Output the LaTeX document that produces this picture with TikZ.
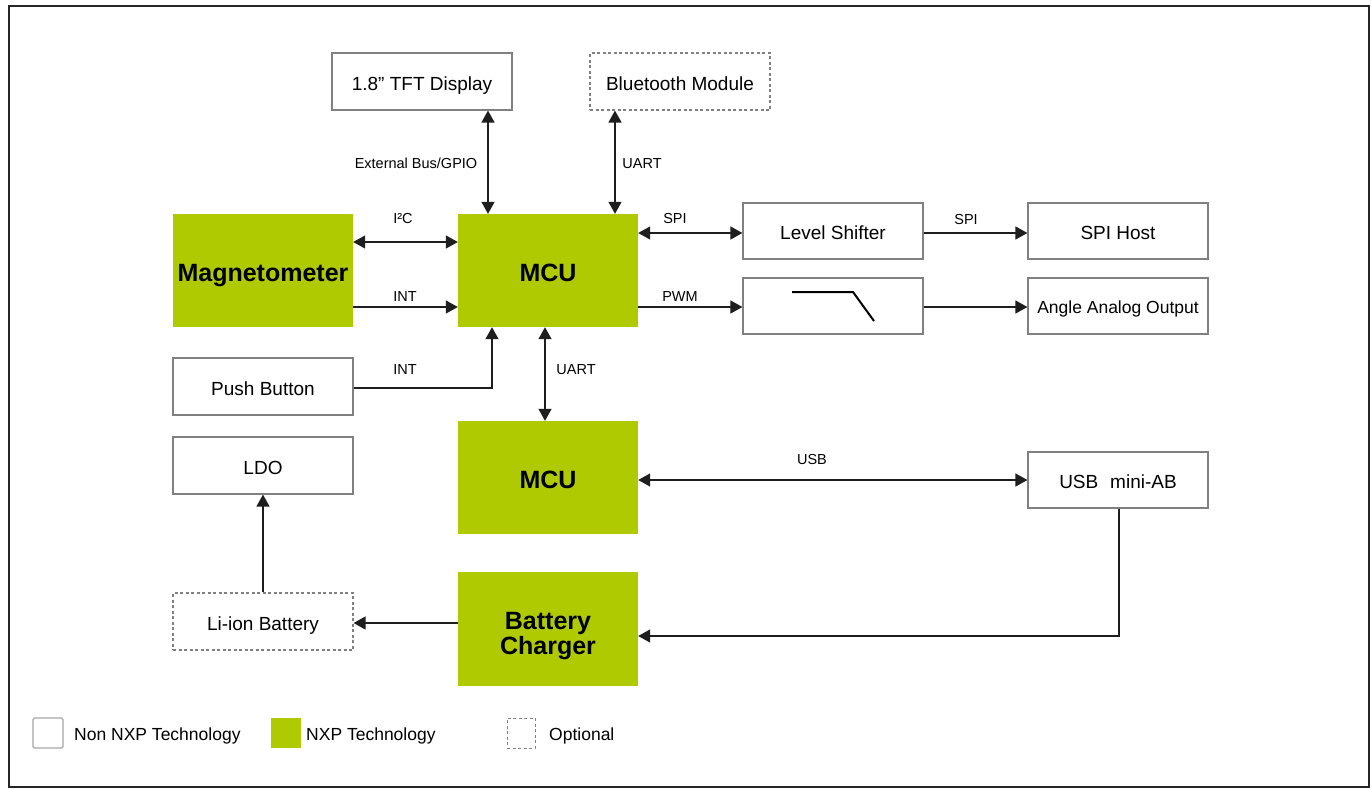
\documentclass[tikz,border=0pt]{standalone}
\usepackage{fontspec}
\setmainfont{Liberation Sans}
\usetikzlibrary{arrows.meta,calc}
\definecolor{nxpgreen}{RGB}{175,202,0}
\definecolor{boxgray}{RGB}{128,128,128}
\definecolor{linecol}{RGB}{30,30,30}
\tikzset{
  box/.style={draw=boxgray, line width=1.2pt, fill=white, minimum width=180pt, minimum height=57pt, inner sep=0pt, text height=17.1pt, text depth=0pt, font=\fontsize{19}{23}\selectfont},
  optbox/.style={box, dash pattern=on 3pt off 2.5pt},
  nxpbox/.style={fill=nxpgreen, draw=none, minimum width=180pt, minimum height=113pt, inner sep=0pt, text height=22.9pt, text depth=0pt, font=\fontsize{25}{26}\selectfont\bfseries},
  nxptext/.style={inner sep=0pt, align=center, font=\fontsize{25}{25}\selectfont\bfseries},
  conn/.style={draw=linecol, line width=1.3pt},
  tip/.tip={Triangle[length=12pt,width=13pt]},
  arr/.style={conn, -tip},
  biarr/.style={conn, tip-tip},
  lbl/.style={inner sep=0pt, font=\fontsize{14.5}{16}\selectfont},
  legtext/.style={inner sep=0pt, anchor=west, text height=14.5pt, text depth=0pt, font=\fontsize{17.5}{20}\selectfont},
}
\begin{document}
\begin{tikzpicture}[x=1pt,y=-1pt]
\useasboundingbox (0,0) rectangle (1372,788);
\fill[white] (0,0) rectangle (1372,788);
\draw[line width=2pt, black!85] (9,5.5) rectangle (1369,787);

% nodes
\node[box] (tft) at (422,81.5) {1.8” TFT Display};
\node[optbox] (bt) at (680,81.5) {Bluetooth Module};
\node[nxpbox] (mag) at (263,270.5) {Magnetometer};
\node[nxpbox] (mcu1) at (548,270.5) {MCU};
\node[box, minimum height=56pt] (ls) at (833,231) {Level Shifter};
\node[box, minimum height=56pt] (spi) at (1118,231) {SPI Host};
\node[box, minimum height=56pt] (flt) at (833,306) {};
\node[box, minimum height=56pt, text height=15.5pt, font=\fontsize{17.5}{20}\selectfont] (aao) at (1118,306) {Angle Analog Output};
\node[box] (pb) at (263,386.5) {Push Button};
\node[box] (ldo) at (263,465.5) {LDO};
\node[nxpbox] (mcu2) at (548,477.5) {MCU};
\node[box, minimum height=56pt] (usb) at (1118,480) {USB\hspace{0.35em} mini-AB};
\node[optbox] (li) at (263,621.5) {Li-ion Battery};
\node[nxpbox, minimum height=114pt] (chg) at (548,629) {};
\node[nxptext] (chgtext) at ([yshift=-7.5pt]chg.center) {Battery\\Charger};

% filter symbol
\draw[line width=2pt, black, line join=miter] (792,292) -- (853,292) -- (874,321);

% connectors
\draw[biarr] ([xshift=66pt]tft.south) -- ([xshift=66pt]tft.south |- mcu1.north);
\draw[biarr] ([xshift=-65pt]bt.south) -- ([xshift=-65pt]bt.south |- mcu1.north);
\draw[biarr] ([yshift=28.5pt]mag.east) -- ([yshift=28.5pt]mag.east -| mcu1.west);
\draw[arr] ([yshift=-36.5pt]mag.east) -- ([yshift=-36.5pt]mag.east -| mcu1.west);
\draw[biarr] ([yshift=-2pt]ls.west -| mcu1.east) -- ([yshift=-2pt]ls.west);
\draw[arr] ([yshift=-2pt]ls.east) -- ([yshift=-2pt]spi.west);
\draw[arr] ([yshift=-1pt]flt.west -| mcu1.east) -- ([yshift=-1pt]flt.west);
\draw[arr] ([yshift=-1pt]flt.east) -- ([yshift=-1pt]aao.west);
\draw[arr] ([yshift=-1.5pt]pb.east) -| ([xshift=-56pt]mcu1.south);
\draw[biarr] ([xshift=-3pt]mcu1.south) -- ([xshift=-3pt]mcu2.north);
\draw[biarr] (usb.west -| mcu2.east) -- (usb.west);
\draw[arr] ([xshift=1pt]usb.south) |- ([yshift=-7pt]chg.east);
\draw[arr] ([yshift=6pt]chg.west) -- ([yshift=6pt]chg.west -| li.east);
\draw[arr] (li.north) -- (ldo.south);

% labels
\node[lbl] (l1) at (416,163) {External Bus/GPIO};
\node[lbl] (l2) at (642,164) {UART};
\node[lbl] (l3) at (403,219) {I²C};
\node[lbl] (l4) at (405,297) {INT};
\node[lbl] (l5) at (405,370) {INT};
\node[lbl] (l6) at (576,370) {UART};
\node[lbl] (l7) at (675,219) {SPI};
\node[lbl] (l8) at (966,220) {SPI};
\node[lbl] (l9) at (680,297) {PWM};
\node[lbl] (l10) at (812,459) {USB};

% legend
\node[draw=boxgray!70, line width=1.2pt, rounded corners=1.5pt, minimum width=30pt, minimum height=30pt, inner sep=0pt] (lg1) at (48,733) {};
\node[legtext] (lt1) at (74,733) {Non NXP Technology};
\node[fill=nxpgreen, minimum width=30pt, minimum height=30pt, inner sep=0pt] (lg2) at (285.5,733) {};
\node[legtext] (lt2) at (306,733) {NXP Technology};
\node[draw=boxgray, line width=1pt, dash pattern=on 3pt off 2.5pt, minimum width=28pt, minimum height=30pt, inner sep=0pt] (lg3) at (521,733) {};
\node[legtext] (lt3) at (549,733) {Optional};
\end{tikzpicture}
\end{document}
